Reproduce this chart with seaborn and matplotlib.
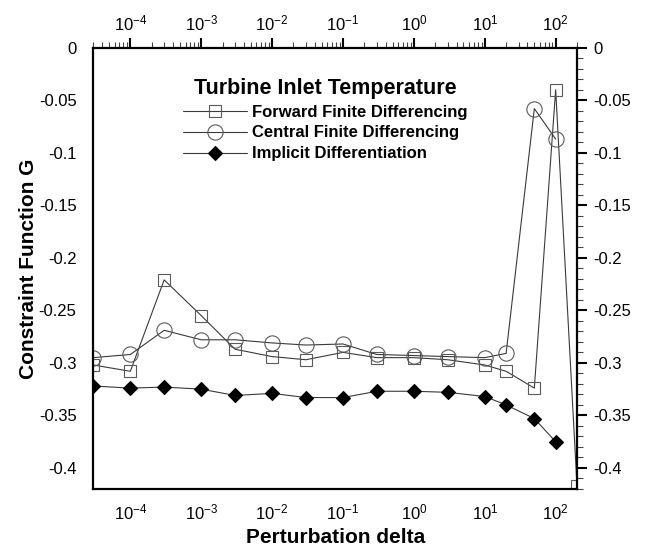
import matplotlib
matplotlib.use("Agg")
import matplotlib.pyplot as plt
import matplotlib.ticker as mticker
import seaborn as sns
import pandas as pd

# ---- data ----
delta = [3e-5, 1e-4, 3e-4, 1e-3, 3e-3, 1e-2, 3e-2, 0.1, 0.3, 1, 3, 10, 20, 50, 100, 200]
forward_fd = [-0.302, -0.308, -0.221, -0.255, -0.287, -0.294, -0.297, -0.290,
              -0.295, -0.295, -0.297, -0.302, -0.308, -0.324, -0.040, -0.417]
central_fd = [-0.295, -0.292, -0.269, -0.278, -0.278, -0.281, -0.283, -0.282,
              -0.292, -0.293, -0.294, -0.295, -0.291, -0.058, -0.087]
implicit_diff = [-0.322, -0.324, -0.323, -0.325, -0.331, -0.329, -0.333, -0.333,
                 -0.327, -0.327, -0.328, -0.332, -0.340, -0.353, -0.375]
x_major_ticks = [1e-4, 1e-3, 1e-2, 1e-1, 1e0, 1e1, 1e2]

series_names = ["Forward Finite Differencing", "Central Finite Differencing",
                "Implicit Differentiation"]
legend_title = "Turbine Inlet Temperature"
x_label = "Perturbation delta"
y_label = "Constraint Function G"

sns.set_theme(style="white")
plt.rcParams["font.family"] = ["Liberation Sans", "DejaVu Sans"]
plt.rcParams["mathtext.fontset"] = "custom"
plt.rcParams["mathtext.rm"] = "Liberation Sans"
plt.rcParams["mathtext.it"] = "Liberation Sans:italic"
plt.rcParams["mathtext.bf"] = "Liberation Sans:bold"
plt.rcParams["axes.unicode_minus"] = False
plt.rcParams["text.color"] = "black"
plt.rcParams["axes.labelcolor"] = "black"
plt.rcParams["xtick.color"] = "black"
plt.rcParams["ytick.color"] = "black"

fig = plt.figure(figsize=(6.5, 5.48), dpi=100)
ax = fig.add_axes([0.1435, 0.1077, 0.7442, 0.8053])

line_color = "#3a3a3a"
df_f = pd.DataFrame({"x": delta, "y": forward_fd})
df_c = pd.DataFrame({"x": delta[:len(central_fd)], "y": central_fd})
df_i = pd.DataFrame({"x": delta[:len(implicit_diff)], "y": implicit_diff})

sns.lineplot(data=df_f, x="x", y="y", ax=ax, color=line_color, linewidth=0.8,
             marker="s", markersize=8.8, markerfacecolor="none",
             markeredgecolor="#5a5a5a", markeredgewidth=0.8,
             label=series_names[0], sort=False)
sns.lineplot(data=df_c, x="x", y="y", ax=ax, color=line_color, linewidth=0.8,
             marker="o", markersize=11, markerfacecolor="none",
             markeredgecolor="#5a5a5a", markeredgewidth=0.8,
             label=series_names[1], sort=False)
sns.lineplot(data=df_i, x="x", y="y", ax=ax, color=line_color, linewidth=0.8,
             marker="D", markersize=7.6, markerfacecolor="black",
             markeredgecolor="black", markeredgewidth=0.8,
             label=series_names[2], sort=False)

ax.set_xscale("log")
ax.set_xlim(3e-5, 200)
ax.set_ylim(-0.42, 0)

ax.xaxis.set_major_locator(mticker.FixedLocator(x_major_ticks))
ax.xaxis.set_minor_locator(mticker.LogLocator(base=10, subs=range(2, 10), numticks=100))
ax.xaxis.set_minor_formatter(mticker.NullFormatter())
ax.yaxis.set_major_locator(mticker.MultipleLocator(0.05))
ax.yaxis.set_minor_locator(mticker.MultipleLocator(0.01))


def xfmt(v, pos):
    import math
    e = int(round(math.log10(v)))
    return r"$\mathdefault{10^{%d}}$" % e


def yfmt(v, pos):
    s = f"{v:g}"
    return "0" if s in ("-0", "0") else s


ax.xaxis.set_major_formatter(mticker.FuncFormatter(xfmt))
ax.yaxis.set_major_formatter(mticker.FuncFormatter(yfmt))

for sp in ax.spines.values():
    sp.set_color("black")
    sp.set_linewidth(1.6)

ax.tick_params(which="both", direction="out", top=True, right=True,
               labeltop=True, labelright=True, colors="black")
ax.tick_params(which="major", length=7, width=1.5, labelsize=12, pad=5)
ax.tick_params(axis="x", which="major", pad=3)
ax.tick_params(which="minor", length=4, width=0.8, color="#444444")

ax.set_xlabel(x_label, fontsize=15, fontweight="bold", color="black")
ax.set_ylabel(y_label, fontsize=15, fontweight="bold", color="black")
ax.xaxis.set_label_coords(0.5, -0.088)
ax.yaxis.set_label_coords(-0.115, 0.5)

leg = ax.legend(loc="upper left", bbox_to_anchor=(0.2815, 0.858),
                bbox_transform=fig.transFigure, frameon=False,
                title=legend_title, handlelength=4.2, handletextpad=0.3,
                labelspacing=0.38, borderpad=0, borderaxespad=0)
leg.get_title().set_fontsize(15.5)
leg.get_title().set_fontweight("bold")
leg.get_title().set_color("black")
for t in leg.get_texts():
    t.set_fontsize(12)
    t.set_fontweight("bold")
    t.set_color("black")

fig.savefig("out.png", dpi=100)
